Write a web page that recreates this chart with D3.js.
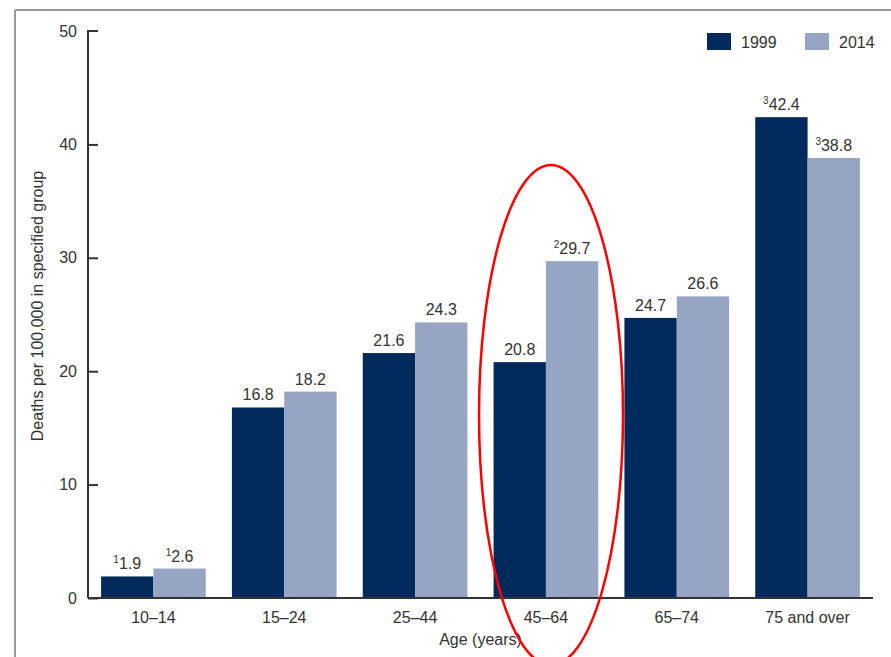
<!DOCTYPE html>
<html><head><meta charset="utf-8">
<script src="https://cdn.jsdelivr.net/npm/d3@7"></script>
<style>body{margin:0;background:#fff}svg{display:block}text{font-family:"Liberation Sans",Arial,sans-serif}</style>
</head><body>
<script>
const categories = ["10–14","15–24","25–44","45–64","65–74","75 and over"];
const seriesNames = ["1999","2014"];
const values1999 = [1.9,16.8,21.6,20.8,24.7,42.4];
const values2014 = [2.6,18.2,24.3,29.7,26.6,38.8];
const notes1999 = ["1","","","","","3"];
const notes2014 = ["1","","","2","","3"];
const yTicks = [0,10,20,30,40,50];
const colors = ["#002A5C","#97A5C4"];

const W=891,H=657;
const FF="Liberation Sans, Arial, sans-serif";
const svg=d3.select("body").append("svg").attr("width",W).attr("height",H);
// frame
svg.append("line").attr("x1",15).attr("x2",W).attr("y1",10).attr("y2",10).attr("stroke","#999").attr("stroke-width",2);
svg.append("line").attr("x1",15).attr("x2",15).attr("y1",10).attr("y2",H).attr("stroke","#999").attr("stroke-width",2);

const x0=d3.scaleBand().domain(categories).range([88,873]).paddingInner(0.2).paddingOuter(0.1);
const x1=d3.scaleBand().domain(seriesNames).range([0,x0.bandwidth()]);
const y=d3.scaleLinear().domain([0,50]).range([598,31]);

const data=categories.map((c,i)=>({c,vals:[{s:"1999",v:values1999[i],n:notes1999[i]},{s:"2014",v:values2014[i],n:notes2014[i]}]}));

const g=svg.append("g").selectAll("g").data(data).join("g").attr("transform",d=>`translate(${x0(d.c)},0)`);
g.selectAll("rect").data(d=>d.vals).join("rect")
 .attr("x",d=>x1(d.s)).attr("width",x1.bandwidth()).attr("y",d=>y(d.v)).attr("height",d=>y(0)-y(d.v))
 .attr("fill",(d,i)=>colors[i]);
const lbl=g.selectAll("text.v").data(d=>d.vals).join("text").attr("class","v")
 .attr("x",d=>x1(d.s)+x1.bandwidth()/2).attr("y",d=>y(d.v)-7).attr("text-anchor","middle")
 .attr("font-size",16).attr("fill","#333");
lbl.each(function(d){
  const t=d3.select(this);
  if(d.n){t.append("tspan").attr("font-size",10).attr("dy",-6).text(d.n);t.append("tspan").attr("dy",6).text(d.v.toFixed(1));}
  else t.text(d.v.toFixed(1));
});

// y axis
const ya=svg.append("g").attr("transform","translate(88,0)").call(d3.axisRight(y).tickValues(yTicks).tickSize(10).tickFormat(d3.format("d")));
ya.select(".domain").attr("stroke","#333").attr("stroke-width",2).attr("d","M10,31H0V598");
ya.selectAll(".tick line").attr("stroke","#333").attr("stroke-width",2);
ya.selectAll(".tick text").attr("x",-11).attr("text-anchor","end").attr("font-size",16).attr("fill","#333").attr("font-family",FF);
ya.selectAll(".tick").filter(d=>d===50).select("line").remove();

// x axis
const xa=svg.append("g").attr("transform","translate(0,598)").call(d3.axisBottom(x0).tickSize(0).tickPadding(14));
xa.select(".domain").attr("stroke","#333").attr("stroke-width",2).attr("d","M88,0H873");
xa.selectAll(".tick text").attr("font-size",16).attr("fill","#333").attr("font-family",FF);

svg.append("text").attr("x",480.5).attr("y",645).attr("text-anchor","middle").attr("font-size",16).attr("fill","#333").text("Age (years)");
svg.append("text").attr("transform","translate(43,306) rotate(-90)").attr("text-anchor","middle").attr("font-size",16).attr("fill","#333").text("Deaths per 100,000 in specified group");

// legend
const lg=svg.append("g").selectAll("g").data(seriesNames).join("g").attr("transform",(d,i)=>`translate(${707+i*98},33)`);
lg.append("rect").attr("width",24).attr("height",17).attr("fill",(d,i)=>colors[i]);
lg.append("text").attr("x",34).attr("y",15).attr("font-size",16).attr("fill","#333").text(d=>d);

// annotation ellipse
svg.append("ellipse").attr("cx",551).attr("cy",415).attr("rx",72).attr("ry",250).attr("fill","none").attr("stroke","#f00").attr("stroke-width",2.5);
</script>
</body></html>
